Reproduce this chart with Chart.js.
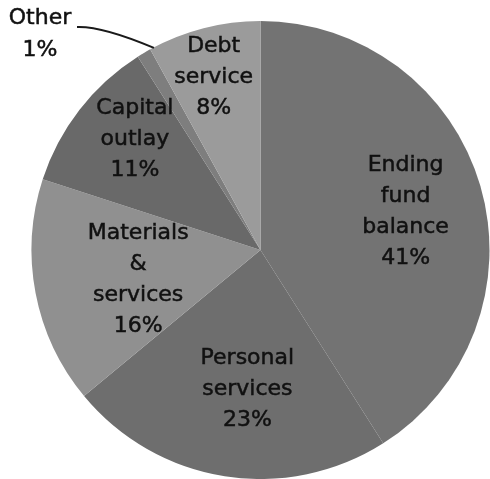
<!DOCTYPE html>
<html>
<head>
<meta charset="utf-8">
<script src="https://cdn.jsdelivr.net/npm/chart.js@4/dist/chart.umd.min.js"></script>
<style>
  html, body { margin: 0; padding: 0; background: #fff; }
  #wrap { width: 490px; height: 479px; }
</style>
</head>
<body>
<div id="wrap"><canvas id="budget"></canvas></div>
<script>
// Budget breakdown, clockwise from 12 o'clock
const categories = [
    ['Ending', 'fund', 'balance'],
    ['Personal', 'services'],
    ['Materials', '&', 'services'],
    ['Capital', 'outlay'],
    ['Other'],
    ['Debt', 'service']
];
const shares = [41, 23, 16, 11, 1, 8];
const sliceColors = ['#737373', '#6e6e6e', '#909090', '#696969', '#7e7e7e', '#9b9b9b'];

// label placement: fraction of radius and angle nudge (degrees) per slice
const labelRadius = [0.655, 0.61, 0.55, 0.73, null, 0.78];
const labelNudge = [1.5, -3.6, -3, 3.5, 0, -0.8];

const sliceLabels = {
    id: 'sliceLabels',
    afterDatasetsDraw(chart) {
        const ctx = chart.ctx;
        const meta = chart.getDatasetMeta(0);
        const lineH = 31;
        ctx.save();
        ctx.font = '22px "DejaVu Sans"';
        ctx.fillStyle = '#111';
        ctx.strokeStyle = '#111';
        ctx.lineWidth = 0.5;
        ctx.textAlign = 'center';
        ctx.textBaseline = 'middle';
        const put = (t, x, y) => { ctx.fillText(t, x, y); ctx.strokeText(t, x, y); };
        meta.data.forEach((arc, i) => {
            const lines = categories[i].concat(shares[i] + '%');
            const mid = (arc.startAngle + arc.endAngle) / 2;
            if (labelRadius[i] === null) {
                // small slice: label outside with a leader line
                const ex = arc.x + Math.cos(mid) * arc.outerRadius;
                const ey = arc.y + Math.sin(mid) * arc.outerRadius;
                const lx = 40, ly = 18;
                lines.forEach((t, k) => put(t, lx, ly + k * 32));
                ctx.save();
                ctx.strokeStyle = '#1a1a1a';
                ctx.lineWidth = 2;
                ctx.beginPath();
                ctx.moveTo(lx + 37, ly + 9);
                ctx.quadraticCurveTo(lx + 62, ly + 8, ex + 10, ey - 5);
                ctx.stroke();
                ctx.restore();
                return;
            }
            const a = mid + labelNudge[i] * Math.PI / 180;
            const r = arc.outerRadius * labelRadius[i];
            const cx = arc.x + Math.cos(a) * r;
            const cy = arc.y + Math.sin(a) * r;
            const top = cy - (lines.length - 1) * lineH / 2;
            lines.forEach((t, k) => put(t, cx, top + k * lineH));
        });
        ctx.restore();
    }
};

new Chart(document.getElementById('budget'), {
    type: 'pie',
    data: {
        labels: categories.map(c => c.join(' ')),
        datasets: [{
            data: shares,
            backgroundColor: sliceColors,
            borderWidth: 0
        }]
    },
    options: {
        responsive: true,
        maintainAspectRatio: false,
        animation: false,
        layout: { padding: { left: 31, top: 21, right: 0, bottom: 0 } },
        plugins: {
            legend: { display: false },
            tooltip: { enabled: false }
        }
    },
    plugins: [sliceLabels]
});
</script>
</body>
</html>
